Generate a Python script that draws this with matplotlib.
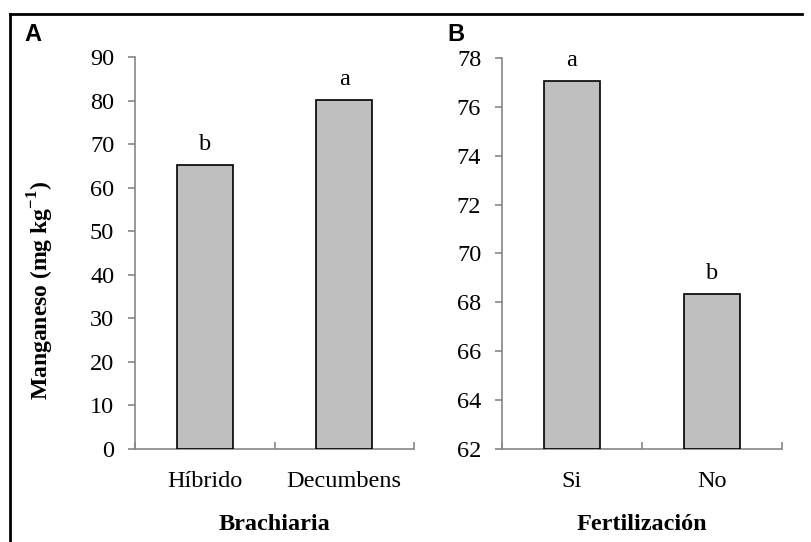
import matplotlib.pyplot as plt
from matplotlib.lines import Line2D

# datos
brachiaria = ["Híbrido", "Decumbens"]
mn_brach = [65.3, 80.1]
letras_brach = ["b", "a"]

fertilizacion = ["Si", "No"]
mn_fert = [77.05, 68.35]
letras_fert = ["a", "b"]

plt.rcParams['font.family'] = ['Liberation Serif', 'DejaVu Serif']
plt.rcParams['mathtext.fontset'] = 'custom'
plt.rcParams['mathtext.rm'] = 'Liberation Serif'
plt.rcParams['mathtext.bf'] = 'Liberation Serif:bold'
gris = '#868686'
fs = 17.5

fig = plt.figure(figsize=(8.11, 5.42), dpi=100)

ax1 = fig.add_axes([0.1665, 0.1716, 0.344, 0.7232])
ax2 = fig.add_axes([0.619, 0.1716, 0.345, 0.7214])


def panel(ax, cats, vals, letras, ymin, ymax, paso, xlabel):
    xs = [0.5 + i for i in range(len(cats))]
    ax.bar(xs, [v - ymin for v in vals], bottom=ymin, width=0.4,
           color='#bfbfbf', edgecolor='black', linewidth=1.2, zorder=3)
    for x, v, l in zip(xs, vals, letras):
        ax.annotate(l, (x, v), xytext=(0, 7), textcoords='offset points',
                    ha='center', va='bottom', fontsize=fs)
    ax.set_xlim(0, len(cats))
    ax.set_ylim(ymin, ymax)
    ax.set_yticks(range(ymin, ymax + 1, paso))
    ax.set_xticks(range(len(cats) + 1))
    ax.set_xticklabels([])
    ax.set_xticks(xs, minor=True)
    ax.set_xticklabels(cats, minor=True)
    ax.tick_params(axis='x', which='minor', length=0, pad=16, labelsize=fs)
    ax.tick_params(axis='x', which='major', direction='in', length=5,
                   color=gris, width=1.2)
    ax.tick_params(axis='y', direction='out', length=5, color=gris,
                   width=1.2, labelsize=fs, pad=10)
    for s in ['top', 'right']:
        ax.spines[s].set_visible(False)
    for s in ['left', 'bottom']:
        ax.spines[s].set_color(gris)
        ax.spines[s].set_linewidth(1.2)
    ax.set_xlabel(xlabel, fontsize=fs, fontweight='bold', labelpad=16)


panel(ax1, brachiaria, mn_brach, letras_brach, 0, 90, 10, "Brachiaria")
panel(ax2, fertilizacion, mn_fert, letras_fert, 62, 78, 2, "Fertilización")

ax1.set_ylabel("Manganeso (mg kg$^{\\mathbf{-1}}$)", fontsize=17,
               fontweight='bold')
ax1.yaxis.set_label_coords(-0.285, 0.405)

fig.text(0.030, 0.958, "A", fontsize=17, fontweight='bold',
         family='Liberation Sans', va='top')
fig.text(0.552, 0.958, "B", fontsize=17, fontweight='bold',
         family='Liberation Sans', va='top')

# marco exterior
fig.add_artist(Line2D([0.0123, 0.0123], [0.0, 0.975], color='black',
                      lw=2, transform=fig.transFigure))
fig.add_artist(Line2D([0.0123, 0.989], [0.975, 0.975], color='black',
                      lw=2, transform=fig.transFigure))

fig.savefig("out.png", dpi=100)
